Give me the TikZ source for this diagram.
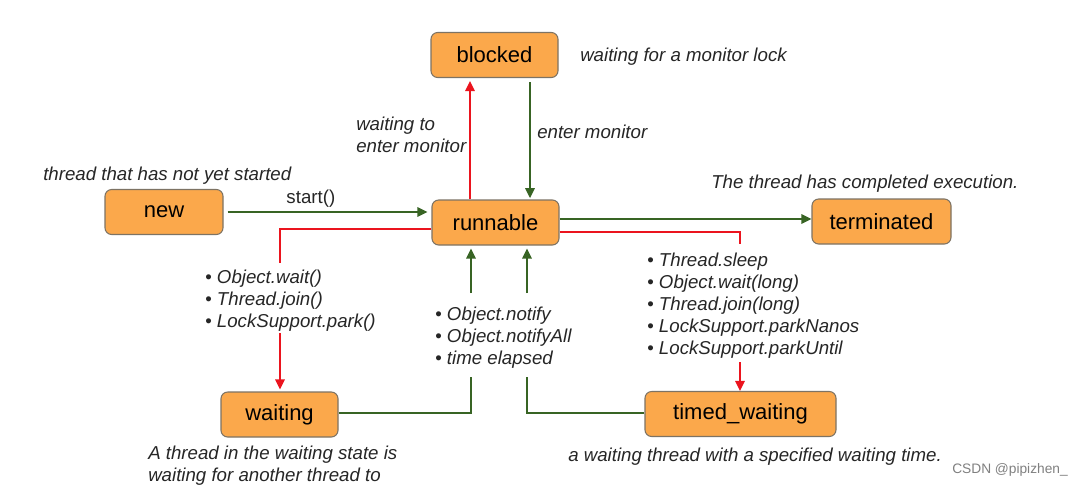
\documentclass[tikz,border=0pt]{standalone}
\usepackage{fontspec}
\setmainfont{Liberation Sans}
\usetikzlibrary{arrows.meta}
\definecolor{boxfill}{RGB}{251,168,75}
\definecolor{boxline}{RGB}{125,115,100}
\definecolor{grn}{RGB}{56,100,36}
\definecolor{rd}{RGB}{235,20,30}
\newcommand\bul{{\upshape\textbullet}\ }
\begin{document}
\begin{tikzpicture}[x=0.75pt,y=-0.75pt,
  state/.style={draw=boxline, line width=0.8pt, fill=boxfill, rounded corners=5pt,
    minimum height=33.75pt, inner sep=0pt, font=\fontsize{16.5}{19}\selectfont},
  lbl/.style={font=\fontsize{14}{16.5}\selectfont\itshape, inner sep=0pt, align=left, text=black!85, yshift=-1pt},
  gline/.style={draw=grn, line width=1.5pt},
  rline/.style={draw=rd, line width=1.5pt},
  tip/.tip={Triangle[length=7.5pt,width=7pt]}]
\fill[white] (0,0) rectangle (1086,487);
% states
\node[state, minimum width=95.25pt] (blocked) at (494.5,55) {blocked};
\node[state, minimum width=88.5pt] (new) at (164,212) {new};
\node[state, minimum width=95.25pt] (runnable) at (495.5,222.5) {runnable};
\node[state, minimum width=104.25pt] (terminated) at (881.5,221.5) {terminated};
\node[state, minimum width=87.75pt] (waiting) at (279.5,414.5) {waiting};
\node[state, minimum width=143.25pt] (timed) at (740.5,414) {timed\_waiting};
% texts
\node[lbl, anchor=west] (tmon) at (580,55) {waiting for a monitor lock};
\node[lbl, anchor=west] (tenter) at (537,130) {enter monitor};
\node[lbl, anchor=west] (twait) at (356,133.5) {waiting to\\enter monitor};
\node[lbl, anchor=west] (tnew) at (43,174) {thread that has not yet started};
\node[lbl, anchor=west] (tterm) at (711,182) {The thread has completed execution.};
\node[lbl, anchor=west] (twaiting) at (148,464) {A thread in the waiting state is\\waiting for another thread to};
\node[lbl, anchor=west] (ttimed) at (568,455) {a waiting thread with a specified waiting time.};
\node[lbl, anchor=west] (list1) at (205,299) {\bul Object.wait()\\\bul Thread.join()\\\bul LockSupport.park()};
\node[lbl, anchor=west] (list2) at (435,336) {\bul Object.notify\\\bul Object.notifyAll\\\bul time elapsed};
\node[lbl, anchor=west] (list3) at (647,304) {\bul Thread.sleep\\\bul Object.wait(long)\\\bul Thread.join(long)\\\bul LockSupport.parkNanos\\\bul LockSupport.parkUntil};
\node[anchor=west, inner sep=0pt, font=\fontsize{10.3}{12}\selectfont, text=black!50] (csdn) at (952,470) {CSDN @pipizhen\_};
% coordinates
\coordinate (xa) at (470,0);
\coordinate (xb) at (530,0);
\coordinate (yt) at (0,219);
\coordinate (yr) at (0,232);
\coordinate (yl) at (0,229);
\coordinate (l1top) at (280,263);
\coordinate (l1bot) at (280,333);
\coordinate (l3top) at (740,244);
\coordinate (l3bot) at (740,362);
\coordinate (g1) at (471,377);
\coordinate (g1up) at (471,293);
\coordinate (g2) at (527,377);
\coordinate (g2up) at (527,293);
% connectors
\draw[rline, -tip, shorten >=2.25pt] (runnable.north -| xa) -- (blocked.south -| xa);
\draw[gline, -tip, shorten <=3pt, shorten >=1pt] (blocked.south -| xb) -- (runnable.north -| xb);
\draw[gline, -tip, shorten <=3pt, shorten >=3pt] (new.east) -- (new.east -| runnable.west)
  node[pos=0.42, above=3pt, font=\fontsize{14}{16.5}\selectfont, text=black!85, inner sep=0pt] (lstart) {start()};
\draw[gline, -tip] (runnable.east |- yt) -- (terminated.west |- yt);
\draw[rline] (runnable.east |- yr) -| (l3top);
\draw[rline, -tip] (l3bot) -- (timed.north -| l3bot);
\draw[rline] (runnable.west |- yl) -| (l1top);
\draw[rline, -tip, shorten >=1.5pt] (l1bot) -- (waiting.north -| l1bot);
\draw[gline] (waiting.east |- 0,413) -| (g1);
\draw[gline, -tip, shorten >=2.25pt] (g1up) -- (runnable.south -| g1up);
\draw[gline] (timed.west |- 0,413) -| (g2);
\draw[gline, -tip, shorten >=2.25pt] (g2up) -- (runnable.south -| g2up);
\end{tikzpicture}
\end{document}
